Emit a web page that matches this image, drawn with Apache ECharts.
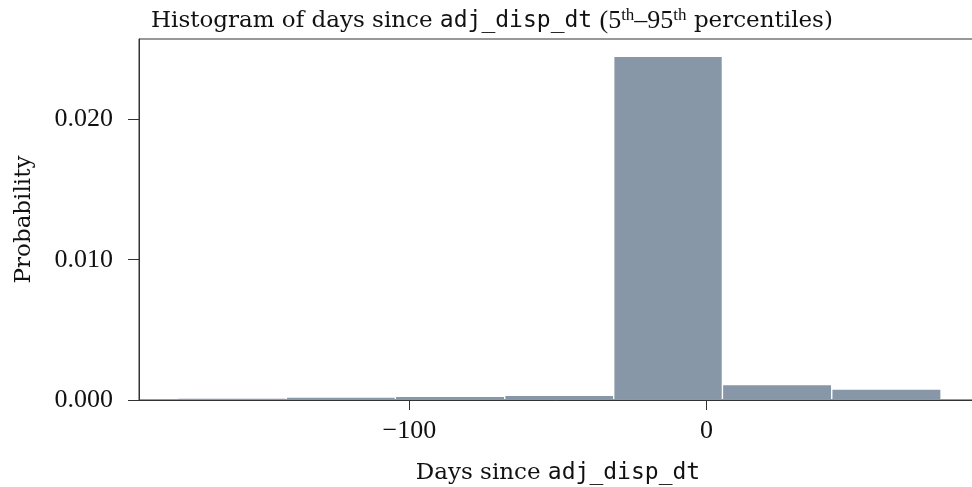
<!DOCTYPE html>
<html>
<head>
<meta charset="utf-8">
<script src="https://cdn.jsdelivr.net/npm/echarts@6/dist/echarts.min.js"></script>
<style>
html,body{margin:0;padding:0;background:#fff;}
#c{width:972px;height:487px;}
</style>
</head>
<body>
<div id="c"></div>
<script>
// Bin edges (days since adj_disp_dt) and probability density per bin
var binEdges = [-178.0, -141.4, -104.7, -67.9, -31.2, 5.4, 42.2, 79.0];
var probabilities = [0.00009, 0.00016, 0.00021, 0.00028, 0.02444, 0.00106, 0.00073];
var xTickValues = [-100, 0];
var yTickValues = [0, 0.01, 0.02];

var serif = '"DejaVu Serif", "Liberation Serif", serif';
var numSerif = '"Liberation Serif", serif';
var mono = '"DejaVu Sans Mono", "Liberation Mono", monospace';

var bins = [];
for (var i = 0; i < probabilities.length; i++) {
  bins.push([binEdges[i], binEdges[i + 1], probabilities[i]]);
}

var chart = echarts.init(document.getElementById('c'), null, {renderer: 'canvas'});
chart.setOption({
  animation: false,
  backgroundColor: '#fff',
  title: {
    left: 146,
    top: 2,
    text: 'Histogram of days since {m|adj_disp_dt} {n|(5}{s|th}{n|–95}{s|th} percentiles)',
    textStyle: {
      fontFamily: serif,
      fontSize: 23,
      fontWeight: 'normal',
      color: '#111',
      rich: {
        m: {fontFamily: mono, fontSize: 23, color: '#111'},
        n: {fontFamily: numSerif, fontSize: 26, color: '#111'},
        s: {fontFamily: numSerif, fontSize: 17, color: '#111', padding: [0, 0, 12, 0]}
      }
    }
  },
  grid: {
    left: 139,
    right: -5,
    top: 39,
    bottom: 87,
    outerBoundsMode: 'none',
    containLabel: false,
    show: true,
    borderColor: '#333',
    borderWidth: 1,
    backgroundColor: 'transparent'
  },
  xAxis: {
    type: 'value',
    min: -191,
    max: 91.1,
    name: 'Days since {m|adj_disp_dt}',
    nameLocation: 'middle',
    nameGap: 62,
    nameTextStyle: {
      fontFamily: serif, fontSize: 23, color: '#111',
      rich: {m: {fontFamily: mono, fontSize: 23, color: '#111'}}
    },
    axisLine: {show: true, onZero: false, lineStyle: {color: '#333', width: 1}},
    axisTick: {show: true, length: 10, customValues: xTickValues, lineStyle: {color: '#333'}},
    axisLabel: {
      customValues: xTickValues,
      margin: 18,
      fontFamily: numSerif, fontSize: 26, color: '#111',
      formatter: function (v) { return v < 0 ? '\u2212' + Math.abs(v) : String(v); }
    },
    splitLine: {show: false}
  },
  yAxis: {
    type: 'value',
    min: 0,
    max: 0.02573,
    name: 'Probability',
    nameLocation: 'middle',
    nameGap: 103,
    nameRotate: 90,
    nameTextStyle: {fontFamily: serif, fontSize: 23, color: '#111'},
    axisLine: {show: true, onZero: false, lineStyle: {color: '#333', width: 1}},
    axisTick: {show: true, length: 11, customValues: yTickValues, lineStyle: {color: '#333'}},
    axisLabel: {
      customValues: yTickValues,
      margin: 26,
      fontFamily: numSerif, fontSize: 26, color: '#111',
      formatter: function (v) { return v.toFixed(3); }
    },
    splitLine: {show: false}
  },
  series: [{
    type: 'custom',
    data: bins,
    encode: {x: [0, 1], y: 2},
    z: 1,
    renderItem: function (params, api) {
      var p0 = api.coord([api.value(0), api.value(2)]);
      var p1 = api.coord([api.value(1), 0]);
      return {
        type: 'rect',
        shape: {x: p0[0] + 0.7, y: p0[1], width: p1[0] - p0[0] - 1.4, height: p1[1] - p0[1] - 0.5},
        style: {fill: '#8797a8'}
      };
    }
  }]
});
</script>
</body>
</html>
